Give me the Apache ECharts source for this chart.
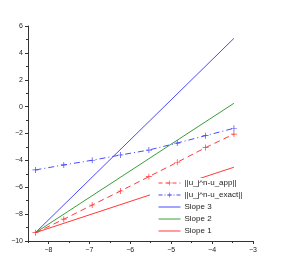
<!DOCTYPE html>
<html><head><meta charset="utf-8">
<script src="https://cdn.jsdelivr.net/npm/echarts@6/dist/echarts.min.js"></script>
<style>html,body{margin:0;padding:0;background:#fff}#c{width:282px;height:268px}</style>
</head><body><div id="c"></div>
<script>
// x = ln(h), h = 2^-12 ... 2^-5
var xs = [-8.318, -7.625, -6.931, -6.238, -5.545, -4.852, -4.159, -3.466];
var errApp = [-9.38, -8.38, -7.32, -6.28, -5.21, -4.14, -3.05, -2.04];
var errExact = [-4.71, -4.34, -3.99, -3.60, -3.23, -2.71, -2.16, -1.61];
var slopeX = [-8.318, -3.466];
var slope3 = [-9.38, 5.08];
var slope2 = [-9.38, 0.25];
var slope1 = [-9.38, -4.51];
var xTicks = [-8, -7, -6, -5, -4, -3];
var names = ['||u_j^n-u_app||', '||u_j^n-u_exact||', 'Slope 3', 'Slope 2', 'Slope 1'];

function pairs(x, y){ return x.map(function(v,i){ return [v, y[i]]; }); }
function fmt(v){ return String(v).replace('-', '\u2212'); }
var plus = 'path://M-0.6,-5H0.6V-0.6H5V0.6H0.6V5H-0.6V0.6H-5V-0.6H-0.6Z';
var FONT = 'Liberation Sans';
var RED = '#ff3a3a', BLUE = '#4a4aff', GREEN = '#3a9e3a';

var chart = echarts.init(document.getElementById('c'), null, {renderer:'canvas'});
chart.setOption({
  animation:false,
  backgroundColor:'#fff',
  grid:{left:28, right:29, top:26, bottom:27, containLabel:false},
  xAxis:[{
    type:'value', min:-8.5, max:-3,
    axisLine:{show:true, onZero:false, lineStyle:{color:'#333', width:1}},
    axisTick:{show:true, customValues:xTicks, length:3, inside:false, lineStyle:{color:'#333'}},
    axisLabel:{show:true, customValues:xTicks, formatter:fmt, fontSize:7, color:'#222', fontFamily:FONT, margin:6},
    splitLine:{show:false}
  },{
    type:'value', min:-8.5, max:-3, interval:0.5, position:'bottom',
    axisLine:{show:false, onZero:false},
    axisTick:{show:true, length:2, lineStyle:{color:'#333'}},
    axisLabel:{show:false}, splitLine:{show:false}
  }],
  yAxis:{
    type:'value', min:-10, max:6, interval:2,
    axisLine:{show:true, onZero:false, lineStyle:{color:'#333', width:1}},
    axisTick:{show:true, length:3, lineStyle:{color:'#333'}},
    minorTick:{show:true, splitNumber:2, length:2, lineStyle:{color:'#333'}},
    axisLabel:{formatter:fmt, fontSize:7, color:'#222', fontFamily:FONT, margin:5},
    splitLine:{show:false}
  },
  legend:{
    left:150, top:178, orient:'vertical',
    backgroundColor:'#fff', padding:[1,4,2,8],
    itemWidth:22, itemHeight:6, itemGap:4,
    textStyle:{fontSize:8, color:'#222', fontFamily:FONT, padding:[0,0,0,-1]},
    data:[
      {name:names[0], lineStyle:{width:1, color:RED, type:[4,3]}, itemStyle:{color:RED}},
      {name:names[1], lineStyle:{width:1, color:BLUE, type:[4,2,1,2]}, itemStyle:{color:BLUE}},
      {name:names[2], itemStyle:{opacity:0}, lineStyle:{width:1, color:BLUE}},
      {name:names[3], itemStyle:{opacity:0}, lineStyle:{width:1, color:GREEN}},
      {name:names[4], itemStyle:{opacity:0}, lineStyle:{width:1, color:RED}}
    ]
  },
  series:[
    {name:names[0], type:'line', data:pairs(xs, errApp), symbol:plus, symbolSize:6,
     itemStyle:{color:RED}, lineStyle:{color:RED, width:1, type:[6,4]}, z:3},
    {name:names[1], type:'line', data:pairs(xs, errExact), symbol:plus, symbolSize:6,
     itemStyle:{color:BLUE}, lineStyle:{color:BLUE, width:1, type:[6,3,1,3]}, z:3},
    {name:names[2], type:'line', data:pairs(slopeX, slope3), symbol:'none',
     itemStyle:{color:BLUE}, lineStyle:{color:BLUE, width:1}},
    {name:names[3], type:'line', data:pairs(slopeX, slope2), symbol:'none',
     itemStyle:{color:GREEN}, lineStyle:{color:GREEN, width:1}},
    {name:names[4], type:'line', data:pairs(slopeX, slope1), symbol:'none',
     itemStyle:{color:RED}, lineStyle:{color:RED, width:1}}
  ]
});
</script></body></html>
